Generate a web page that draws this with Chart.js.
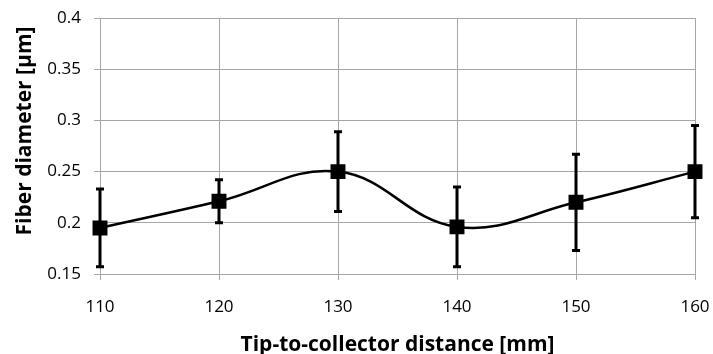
<!DOCTYPE html>
<html>
<head>
<meta charset="utf-8">
<script src="https://cdn.jsdelivr.net/npm/chart.js@4"></script>
<style>
  html, body { margin: 0; padding: 0; background: #fff; }
  #wrap { width: 713px; height: 354px; }
</style>
</head>
<body>
<div id="wrap"><canvas id="grafico" width="713" height="354"></canvas></div>
<script>
// values
const distances = [110, 120, 130, 140, 150, 160];
const diameters = [0.195, 0.221, 0.25, 0.196, 0.22, 0.25];
const errors = [0.038, 0.021, 0.039, 0.039, 0.047, 0.045];
const yTicks = [0.15, 0.2, 0.25, 0.3, 0.35, 0.4];
const xTitle = 'Tip-to-collector distance [mm]';
const yTitle = 'Fiber diameter [µm]';

const gridColor = '#a6a6a6';
const font = "'Open Sans', sans-serif";

// error bars drawn through the chart's own scales
const errorBars = {
  id: 'errorBars',
  beforeDatasetsDraw(chart) {
    const ctx = chart.ctx;
    const xs = chart.scales.x, ys = chart.scales.y;
    ctx.save();
    ctx.strokeStyle = '#000';
    ctx.lineWidth = 3;
    distances.forEach((d, i) => {
      const x = xs.getPixelForValue(d);
      const top = ys.getPixelForValue(diameters[i] + errors[i]);
      const bot = ys.getPixelForValue(diameters[i] - errors[i]);
      ctx.beginPath();
      ctx.moveTo(x, top); ctx.lineTo(x, bot);
      ctx.moveTo(x - 4, top); ctx.lineTo(x + 4, top);
      ctx.moveTo(x - 4, bot); ctx.lineTo(x + 4, bot);
      ctx.stroke();
    });
    ctx.restore();
  }
};

// y title sits a bit above the middle of the axis, like in Excel
const yTitlePlugin = {
  id: 'yTitle',
  afterDraw(chart) {
    const ctx = chart.ctx;
    ctx.save();
    ctx.translate(25, 131);
    ctx.rotate(-Math.PI / 2);
    ctx.font = "bold 21px " + font;
    ctx.fillStyle = '#000';
    ctx.textAlign = 'center';
    ctx.textBaseline = 'middle';
    ctx.fillText(yTitle, 0, 0);
    ctx.restore();
  }
};

new Chart(document.getElementById('grafico').getContext('2d'), {
  type: 'line',
  data: {
    datasets: [{
      data: distances.map((d, i) => ({ x: d, y: diameters[i] })),
      borderColor: '#000',
      backgroundColor: '#000',
      borderWidth: 2.5,
      tension: 0.4,
      pointStyle: 'rect',
      pointRadius: 8.8,
      pointHoverRadius: 8.8,
      clip: false,
      fill: false
    }]
  },
  options: {
    responsive: false,
    animation: false,
    events: [],
    layout: { padding: { top: 18, right: 18, left: 0, bottom: 0 } },
    plugins: { legend: { display: false }, tooltip: { enabled: false } },
    scales: {
      x: {
        type: 'linear',
        min: 110, max: 160,
        afterBuildTicks: s => { s.ticks = distances.map(v => ({ value: v })); },
        afterFit: s => { s.height = 80; s.paddingLeft = 0; s.paddingRight = 0; },
        grid: { color: gridColor, tickLength: 6, lineWidth: 1 },
        border: { color: gridColor },
        ticks: { color: '#000', padding: 17, font: { family: font, size: 17 } },
        title: {
          display: true,
          text: xTitle,
          color: '#000',
          font: { family: font, size: 21, weight: 'bold' },
          padding: { top: 0, bottom: -4 }
        }
      },
      y: {
        min: 0.15, max: 0.4,
        afterBuildTicks: s => { s.ticks = yTicks.map(v => ({ value: v })); },
        afterFit: s => { s.width = 100; s.paddingTop = 0; s.paddingBottom = 0; },
        grid: { color: gridColor, tickLength: 6, lineWidth: 1 },
        border: { color: gridColor },
        ticks: {
          color: '#000', padding: 13,
          font: { family: font, size: 17 },
          callback: v => String(Math.round(v * 100) / 100)
        },
        title: { display: false }
      }
    }
  },
  plugins: [errorBars, yTitlePlugin]
});
</script>
</body>
</html>
